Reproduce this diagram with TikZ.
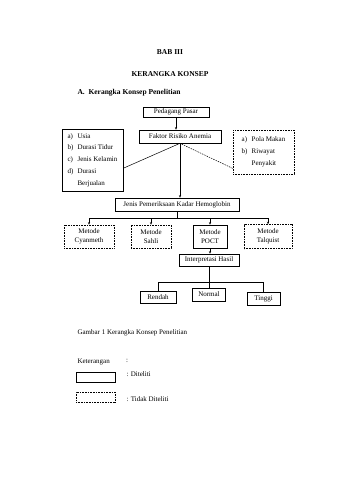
\documentclass[tikz,border=0pt]{standalone}
\usepackage{fontspec}
\setmainfont{Liberation Serif}
\usepackage{tikz}
\usetikzlibrary{arrows.meta,positioning}
\tikzset{
  studied/.style={draw=black, line width=0.6pt, inner sep=1pt, align=center,
              font=\fontsize{7}{9.5}\selectfont},
  unstudied/.style={studied, dash pattern=on 0.8pt off 0.8pt},
  flow/.style={-{Stealth[length=2.6pt,width=2.2pt]}, line width=0.5pt},
  link/.style={line width=0.5pt},
  heading/.style={font=\fontsize{7.5}{9}\bfseries},
  plain/.style={font=\fontsize{7}{9}\selectfont},
}
\newcommand{\itm}[1]{\makebox[10pt][l]{#1}}

\begin{document}
\begin{tikzpicture}[x=1pt,y=-1pt]
        \fill[white] (0,0) rectangle (339,480);
        \useasboundingbox (0,0) rectangle (339,480);
        % judul
        \node[heading] (bab) at (170,52) {BAB III};
        \node[heading] (judul) at (170,74) {KERANGKA KONSEP};
        \node[heading,anchor=west] (subjudul) at (74,93) {A.\ \ Kerangka Konsep Penelitian};
        % kerangka
        \node[studied,minimum width=66pt,minimum height=10pt] (pedagang) at (176,112) {Pedagang Pasar};
        \node[studied,minimum width=82pt,minimum height=13pt] (faktor) at (180,136.5) {Faktor Risiko Anemia};
        \node[studied,minimum width=61pt,minimum height=62pt,align=left,font=\fontsize{7}{11.8}\selectfont] (faktorA) at (92.5,160)
          {\itm{a)}Usia\\\itm{b)}Durasi Tidur\\\itm{c)}Jenis Kelamin\\\itm{d)}Durasi\\\itm{}Berjualan};
        \node[unstudied,minimum width=61pt,minimum height=44pt,align=left,font=\fontsize{7}{11.8}\selectfont] (faktorB) at (263.5,152)
          {\itm{a)}Pola Makan\\\itm{b)}Riwayat\\\itm{}Penyakit};
        \draw[flow] (pedagang.south) -- (pedagang.south |- faktor.north);
        \draw[link] (faktorA.-15) -- (faktor.south);
        \draw[link,dash pattern=on 1.5pt off 1pt] (faktorB.-152) -- (faktor.south);
        \node[studied,minimum width=124pt,minimum height=13pt] (jenis) at (177,204.5) {Jenis Pemeriksaan Kadar Hemoglobin};
        \draw[flow] (faktor.south) -- (faktor.south |- jenis.north);
        % metode
        \node[unstudied,minimum width=50pt,minimum height=23pt] (cyan) at (89,236.5) {Metode\\Cyanmeth};
        \node[unstudied,minimum width=40pt,minimum height=23pt] (sahli) at (151,236.5) {Metode\\Sahli};
        \node[studied,minimum width=34pt,minimum height=23pt] (poct) at (210,236.5) {Metode\\POCT};
        \node[unstudied,minimum width=48pt,minimum height=24pt] (talq) at (268,236.5) {Metode\\Talquist};
        \coordinate (bus) at (177,218);
        \draw[link] (jenis.south) -- (bus);
        \draw[link] (cyan.north |- bus) -- (talq.north |- bus);
        \foreach \m in {cyan,sahli,poct,talq}
          \draw[flow] (\m.north |- bus) -- (\m.north);
        % hasil
        \node[studied,minimum width=60pt,minimum height=12pt] (interp) at (209,260) {Interpretasi Hasil};
        \draw[flow] (poct.south) -- (poct.south |- interp.north);
        \node[studied,minimum width=36pt,minimum height=12pt] (rendah) at (158,297) {Rendah};
        \node[studied,minimum width=33pt,minimum height=13pt] (normal) at (209,294.5) {Normal};
        \node[studied,minimum width=33pt,minimum height=13pt] (tinggi) at (263.5,298.5) {Tinggi};
        \coordinate (bus2) at (209,282);
        \draw[link] (interp.south) -- (normal.north);
        \draw[link] (rendah.north |- bus2) -- (tinggi.north |- bus2);
        \draw[link] (rendah.north |- bus2) -- (rendah.north);
        \draw[link] (tinggi.north |- bus2) -- (tinggi.north);
        % keterangan
        \node[plain,anchor=west] (caption) at (74,333) {Gambar 1 Kerangka Konsep Penelitian};
        \node[plain,anchor=west] (ket) at (74,362) {Keterangan};
        \node[plain] (ketcolon) at (127,361) {:};
        \node[studied,minimum width=39pt,minimum height=10pt] (legA) at (95.5,377) {};
        \node[plain,anchor=west] (legAtext) at (123,374) {: Diteliti};
        \node[unstudied,minimum width=39pt,minimum height=10pt] (legB) at (95.5,397) {};
        \node[plain,anchor=west] (legBtext) at (123,399) {: Tidak Diteliti};
      \end{tikzpicture}
\end{document}
